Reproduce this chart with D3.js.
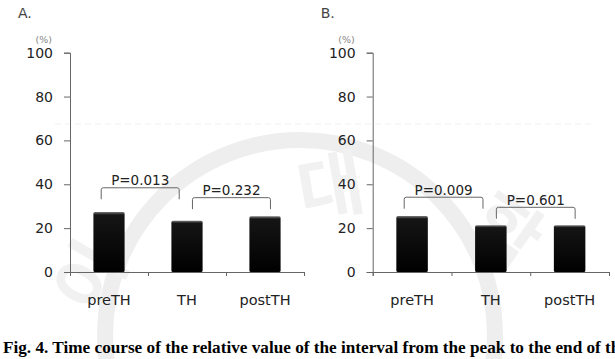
<!DOCTYPE html>
<html>
<head>
<meta charset="utf-8">
<script src="https://cdn.jsdelivr.net/npm/d3@7"></script>
<style>
  body { margin: 0; background: #fff; }
  svg { display: block; }
</style>
</head>
<body>
<svg width="615" height="359" font-family="DejaVu Sans, sans-serif"></svg>
<script>
var categories = ["preTH", "TH", "postTH"];
var yTicks = [0, 20, 40, 60, 80, 100];

var valuesA = [27.4, 23.4, 25.4];
var valuesB = [25.5, 21.3, 21.3];

// p-value brackets: from / to category, level of bracket top, label
var bracketsA = [
  {from: "preTH", to: "TH", level: 38.4, label: "P=0.013"},
  {from: "TH", to: "postTH", level: 33.9, label: "P=0.232"}
];
var bracketsB = [
  {from: "preTH", to: "TH", level: 34.1, label: "P=0.009"},
  {from: "TH", to: "postTH", level: 29.5, label: "P=0.601"}
];

var caption = "Fig. 4. Time course of the relative value of the interval from the peak to the end of the";

var svg = d3.select("svg");

var defs = svg.append("defs");
var grad = defs.append("linearGradient")
    .attr("id", "barfill")
    .attr("x1", 0).attr("y1", 0).attr("x2", 0).attr("y2", 1);
grad.append("stop").attr("offset", "0%").attr("stop-color", "#777");
grad.append("stop").attr("offset", "5%").attr("stop-color", "#151515");
grad.append("stop").attr("offset", "100%").attr("stop-color", "#000");

// faint watermark behind the charts
var wm = svg.append("g").attr("class", "watermark");
wm.append("circle")
    .attr("cx", 300).attr("cy", 335).attr("r", 195)
    .attr("fill", "none").attr("stroke", "#eeeeee").attr("stroke-width", 16);
wm.append("line")
    .attr("x1", 55).attr("x2", 595).attr("y1", 124).attr("y2", 124)
    .attr("stroke", "#f0f0f0").attr("stroke-dasharray", "6,4");
[["이", 112, 290, -60], ["대", 335, 212, -10], ["학", 492, 252, 35]].forEach(function(w) {
  wm.append("text")
    .attr("transform", "translate(" + w[1] + "," + w[2] + ") rotate(" + w[3] + ")")
    .attr("text-anchor", "middle")
    .attr("font-family", "Noto Sans CJK KR")
    .attr("font-size", 72)
    .attr("font-weight", "bold")
    .attr("fill", "#f1f1f1")
    .text(w[0]);
});

var y = d3.scaleLinear().domain([0, 100]).range([272, 52.7]);

function drawPanel(left, right, values, brackets, letter) {
  var g = svg.append("g");

  var x = d3.scaleBand().domain(categories).range([left, right]);
  var bw = x.bandwidth();

  // y axis
  var yAxis = g.append("g")
    .attr("transform", "translate(" + left + ",0)")
    .call(d3.axisLeft(y).tickValues(yTicks).tickSize(6).tickPadding(11));
  yAxis.selectAll("path, line").attr("stroke", "#666");
  yAxis.selectAll("text").attr("font-size", 14).attr("fill", "#222")
    .attr("font-family", "DejaVu Sans");

  // x axis: ticks on the category boundaries, labels in the middle
  var xb = d3.scaleLinear().domain([0, categories.length]).range([left, right]);
  var xAxis = g.append("g")
    .attr("transform", "translate(0," + y(0) + ")")
    .call(d3.axisBottom(xb).ticks(categories.length).tickSize(4).tickFormat(""));
  xAxis.selectAll("path, line").attr("stroke", "#666");

  g.selectAll(".cat")
    .data(categories)
    .enter().append("text")
    .attr("x", function(d) { return x(d) + bw / 2; })
    .attr("y", 305)
    .attr("text-anchor", "middle")
    .attr("font-size", 14.5)
    .attr("fill", "#222")
    .text(function(d) { return d; });

  // bars
  var barW = bw * 0.4;
  g.selectAll(".bar")
    .data(values)
    .enter().append("rect")
    .attr("x", function(d, i) { return x(categories[i]) + (bw - barW) / 2; })
    .attr("y", function(d) { return y(d); })
    .attr("width", barW)
    .attr("height", function(d) { return y(0) - y(d); })
    .attr("rx", 1.5)
    .attr("fill", "url(#barfill)");

  // brackets
  brackets.forEach(function(b, i) {
    var off = i === 0 ? 0.4 : 0.57;
    var x1 = x(b.from) + bw * off;
    var x2 = x(b.to) + bw * off;
    var top = y(b.level);
    var leg = 11.5;
    g.append("path")
      .attr("d", "M" + x1 + "," + (top + leg) + "V" + (top + 2) +
                 "Q" + x1 + "," + top + " " + (x1 + 2) + "," + top +
                 "H" + (x2 - 2) +
                 "Q" + x2 + "," + top + " " + x2 + "," + (top + 2) +
                 "V" + (top + leg))
      .attr("fill", "none")
      .attr("stroke", "#666")
      .attr("stroke-width", 1);
    g.append("text")
      .attr("x", (x1 + x2) / 2)
      .attr("y", top - 2.5)
      .attr("text-anchor", "middle")
      .attr("font-size", 13.5)
      .attr("fill", "#222")
      .text(b.label);
  });

  // (%) unit and panel letter
  g.append("text")
    .attr("x", left - 18)
    .attr("y", 43)
    .attr("text-anchor", "end")
    .attr("font-size", 9.5)
    .attr("fill", "#888")
    .text("(%)");

  g.append("text")
    .attr("x", left - 52)
    .attr("y", 18)
    .attr("font-size", 14)
    .attr("fill", "#444")
    .text(letter);
}

drawPanel(70, 304, valuesA, bracketsA, "A.");
drawPanel(372.7, 609, valuesB, bracketsB, "B.");

svg.append("text")
  .attr("x", 3)
  .attr("y", 353)
  .attr("font-family", "Liberation Serif")
  .attr("font-weight", "bold")
  .attr("font-size", 17.2)
  .attr("fill", "#000")
  .text(caption);
</script>
</body>
</html>
